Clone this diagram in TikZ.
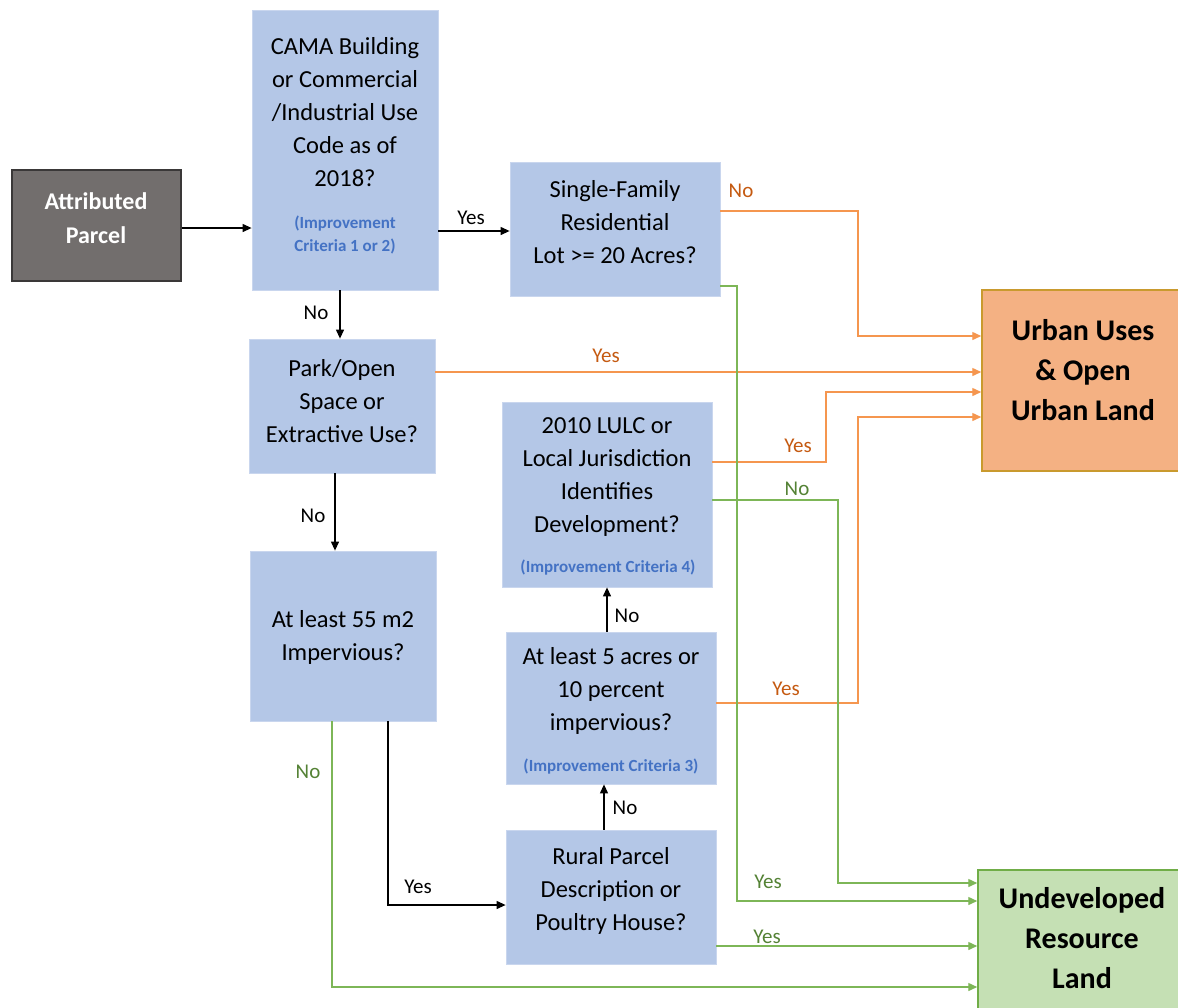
\documentclass[tikz,border=0pt]{standalone}
\usepackage{fontspec}
\setmainfont{Carlito}
\usetikzlibrary{arrows.meta,calc}
\definecolor{boxblue}{HTML}{B4C7E7}
\definecolor{boxedge}{HTML}{C9D6EE}
\definecolor{attrfill}{HTML}{726E6D}
\definecolor{attredge}{HTML}{3A3838}
\definecolor{urbfill}{HTML}{F4B183}
\definecolor{urbedge}{HTML}{C99A2E}
\definecolor{undfill}{HTML}{C5E0B4}
\definecolor{undedge}{HTML}{70AD47}
\definecolor{orline}{HTML}{F5964F}
\definecolor{orlabel}{HTML}{C55A11}
\definecolor{grline}{HTML}{7DB657}
\definecolor{grlabel}{HTML}{548235}
\definecolor{critblue}{HTML}{4472C4}
\begin{document}
\begin{tikzpicture}[x=1pt,y=-1pt,
  qbox/.style={fill=boxblue,draw=boxedge,line width=0.8pt,inner sep=0pt},
  maintxt/.style={align=center,inner sep=0pt,font=\fontsize{24.5}{33}\selectfont},
  crittxt/.style={align=center,inner sep=0pt,text=critblue,font=\fontsize{17}{23}\bfseries\selectfont},
  bigtxt/.style={align=center,inner sep=0pt,font=\fontsize{30}{40}\bfseries\selectfont},
  lab/.style={inner sep=0pt,font=\fontsize{21}{25}\selectfont},
  orlab/.style={lab,text=orlabel},
  grlab/.style={lab,text=grlabel},
  blk/.style={line width=1.2pt,draw=black,-{Triangle[length=9pt,width=8pt]}},
  orarr/.style={line width=1.4pt,draw=orline,-{Triangle[length=9pt,width=8pt]}},
  grarr/.style={line width=1.4pt,draw=grline,-{Triangle[length=9pt,width=8pt]}}]
\useasboundingbox (0,0) rectangle (1178,1007);
\fill[white] (0,0) rectangle (1178,1007);

% boxes
\node[fill=attrfill,draw=attredge,line width=1.5pt,minimum width=169pt,minimum height=111pt,inner sep=0pt] (attr) at (96.5,225.5) {};
\node[qbox,minimum width=186pt,minimum height=280pt] (cama) at (345,150) {};
\node[qbox,minimum width=210pt,minimum height=134pt] (sfr) at (615,229) {};
\node[qbox,minimum width=186pt,minimum height=134pt] (park) at (342,406) {};
\node[qbox,minimum width=210pt,minimum height=185pt] (lulc) at (607,494.5) {};
\node[qbox,minimum width=186pt,minimum height=170pt] (imp) at (343,636) {};
\node[qbox,minimum width=210pt,minimum height=152pt] (five) at (611,708) {};
\node[qbox,minimum width=210pt,minimum height=134pt] (rural) at (611,897) {};
\node[fill=urbfill,draw=urbedge,line width=1.5pt,minimum width=218pt,minimum height=181pt,inner sep=0pt] (urban) at (1091,380.5) {};
\node[fill=undfill,draw=undedge,line width=1.5pt,minimum width=222pt,minimum height=180pt,inner sep=0pt] (undev) at (1089,960) {};

% texts
\node[align=center,inner sep=0pt,text=white,font=\fontsize{24}{34}\bfseries\selectfont] (attrt) at (96,218) {Attributed\\Parcel};
\node[maintxt] (camat) at (345,112) {CAMA Building\\or Commercial\\/Industrial Use\\Code as of\\2018?};
\node[crittxt] (camac) at (345,235) {(Improvement\\Criteria 1 or 2)};
\node[maintxt] (sfrt) at (615,222) {Single-Family\\Residential\\Lot >= 20 Acres?};
\node[maintxt] (parkt) at (342,401) {Park/Open\\Space or\\Extractive Use?};
\node[maintxt] (lulct) at (607,477) {2010 LULC or\\Local Jurisdiction\\Identifies\\Development?};
\node[crittxt] (lulcc) at (608,568) {(Improvement Criteria 4)};
\node[maintxt] (impt) at (343,637) {At least 55 m2\\Impervious?};
\node[maintxt] (fivet) at (611,691) {At least 5 acres or\\10 percent\\impervious?};
\node[crittxt] (fivec) at (611,767) {(Improvement Criteria 3)};
\node[maintxt] (ruralt) at (611,891) {Rural Parcel\\Description or\\Poultry House?};
\node[bigtxt] (urbant) at (1083,370) {Urban Uses\\\& Open\\Urban Land};
\node[bigtxt] (undevt) at (1082,938) {Undeveloped\\Resource\\Land};

% black connectors
\draw[blk] (attr.east |- 0,228) -- (cama.west |- 0,228);
\draw[blk] (cama.east |- 0,231) -- (sfr.west |- 0,231);
\draw[blk] (cama.south -| 340,0) -- (park.north -| 340,0);
\draw[blk] (park.south -| 335,0) -- (imp.north -| 335,0);
\draw[blk] (imp.south -| 388,0) -- (388,905) -- (rural.west |- 0,905);
\draw[blk] (five.north -| 607,0) -- (lulc.south -| 607,0);
\draw[blk] (rural.north -| 604,0) -- (five.south -| 604,0);

% orange connectors
\draw[orarr] (sfr.east |- 0,211) -| (858,336) -- (urban.west |- 0,336);
\draw[orarr] (park.east |- 0,372) -- (urban.west |- 0,372);
\draw[orarr] (lulc.east |- 0,462) -| (826,392) -- (urban.west |- 0,392);
\draw[orarr] (five.east |- 0,703) -| (858,417) -- (urban.west |- 0,417);

% green connectors
\draw[grarr] (sfr.east |- 0,286) -| (737,901) -- (undev.west |- 0,901);
\draw[grarr] (lulc.east |- 0,500) -| (838,883) -- (undev.west |- 0,883);
\draw[grarr] (rural.east |- 0,946) -- (undev.west |- 0,946);
\draw[grarr] (imp.south -| 332,0) -- (332,987) -- (undev.west |- 0,987);

% labels
\node[lab] (l1) at (471,218) {Yes};
\node[lab] (l2) at (316,313) {No};
\node[lab] (l3) at (313,516) {No};
\node[lab] (l4) at (418,887) {Yes};
\node[lab] (l5) at (627,616) {No};
\node[lab] (l6) at (625,808) {No};
\node[orlab] (l7) at (741,191) {No};
\node[orlab] (l8) at (606,356) {Yes};
\node[orlab] (l9) at (798,446) {Yes};
\node[orlab] (l10) at (786,689) {Yes};
\node[grlab] (l11) at (768,882) {Yes};
\node[grlab] (l12) at (797,489) {No};
\node[grlab] (l13) at (767,937) {Yes};
\node[grlab] (l14) at (308,772) {No};
\end{tikzpicture}
\end{document}
